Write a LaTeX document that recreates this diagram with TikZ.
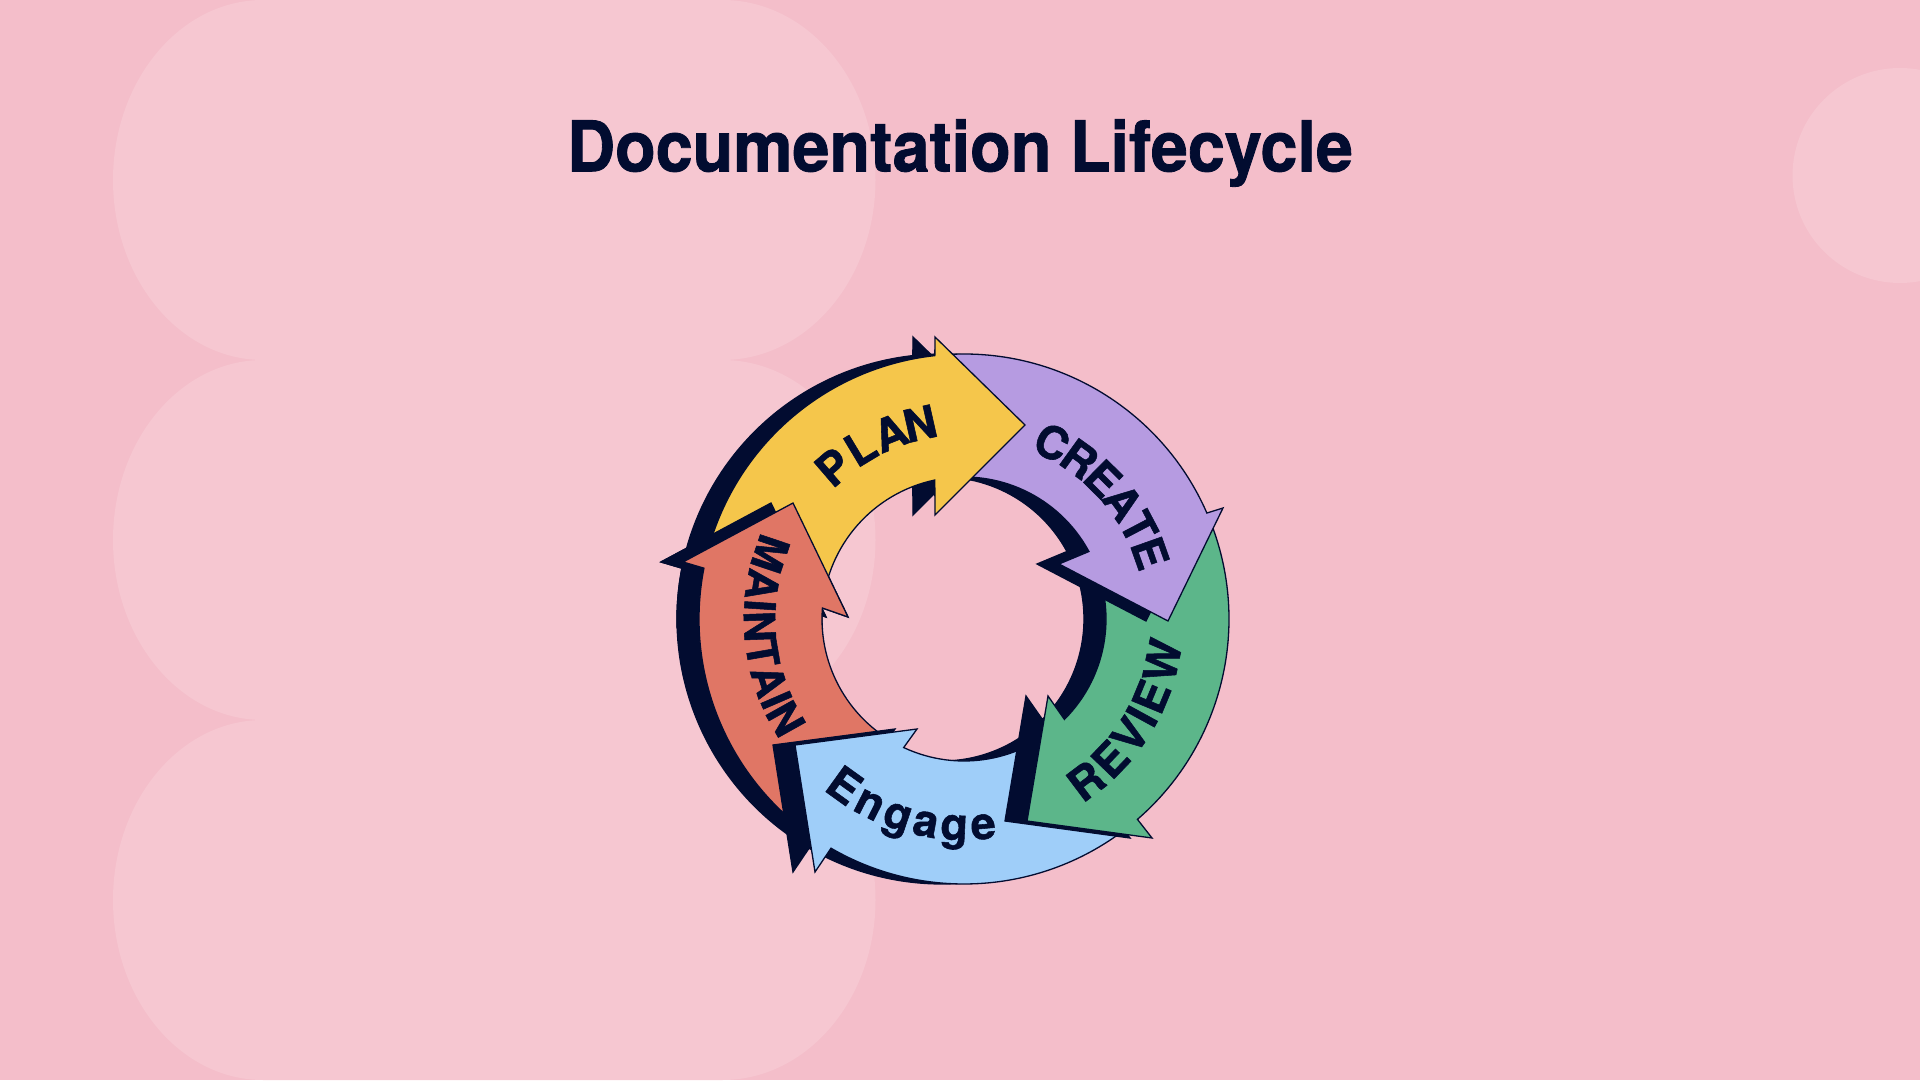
\documentclass[tikz,border=0pt]{standalone}
\usepackage{fontspec}
\setmainfont{TeX Gyre Heros}
\newfontfamily\heavyfont{TeX Gyre Heros}[BoldFeatures={FakeBold=1.2}]
\definecolor{bgpink}{HTML}{F4BECA}
\definecolor{blobpink}{HTML}{F6C7D1}
\definecolor{navy}{HTML}{020C30}
\definecolor{cyellow}{HTML}{F5C64B}
\definecolor{cpurple}{HTML}{B69BE1}
\definecolor{cgreen}{HTML}{5CB68A}
\definecolor{cblue}{HTML}{9FCEF9}
\definecolor{csalmon}{HTML}{E07665}
% arrow outlines, relative to the ring centre
\def\pathMaint{(-120.12:265) arc[start angle=-120.12, end angle=-191.06, radius=265] -- (-281,57) -- (-171,116) -- (-116,2) -- (-184.43:142) arc[start angle=-184.43, end angle=-115.13, radius=142] -- cycle}
\def\pathEngage{(-49.12:265) arc[start angle=-49.12, end angle=-120.12, radius=265] -- (-149,-253) -- (-169,-126) -- (-47,-110) -- (-115.13:142) arc[start angle=-115.13, end angle=-45, radius=142] -- cycle}
\def\pathReview{(23.57:265) arc[start angle=23.57, end angle=-49.12, radius=265] -- (188,-219) -- (63,-202) -- (84,-77) -- (-45:142) arc[start angle=-45, end angle=28.38, radius=142] -- cycle}
\def\pathCreate{(96.32:265) arc[start angle=96.32, end angle=23.57, radius=265] -- (259,111) -- (204,-2) -- (95,55) -- (28.38:142) arc[start angle=28.38, end angle=101.87, radius=142] -- cycle}
\def\pathPlan{(168.94:265) arc[start angle=168.94, end angle=96.32, radius=265] -- (-29,282) -- (61,194) -- (-29,104) -- (101.87:142) arc[start angle=101.87, end angle=175.57, radius=142] -- cycle}
\begin{document}
\begin{tikzpicture}[x=1pt,y=1pt,
  blob/.style={fill=blobpink},
  arrowshape/.style={draw=navy, line width=1.3pt, line join=miter},
  shade/.style={fill=navy, draw=navy, line width=1.3pt, xshift=-22pt},
  lbl/.style={font=\heavyfont\fontsize{45}{45}\selectfont\bfseries, text=navy, inner sep=0pt, anchor=base},
  lblsmall/.style={font=\heavyfont\fontsize{43}{43}\selectfont\bfseries, text=navy, inner sep=0pt, anchor=base},
  titletext/.style={font=\heavyfont\fontsize{70}{70}\selectfont\bfseries, text=navy, inner sep=0pt, anchor=base}]
\fill[bgpink] (0,0) rectangle (1920,1080);
\useasboundingbox (0,0) rectangle (1920,1080);
% background blobs
\foreach \yc in {900,540,180}{
  \fill[blob] (263,\yc+180) -- (722.5,\yc+180) arc[start angle=90, end angle=-90, x radius=153, y radius=180]
     -- (263,\yc-180) arc[start angle=270, end angle=90, x radius=150, y radius=180] -- cycle;
}
\fill[blob] (1900,904.5) circle[radius=107.5];
% title
\node[titletext] (title) at (960,908.6) {\scalebox{0.95}[1]{Documentation Lifecycle}};
% ring
\begin{scope}[shift={(964,461)}]
  \fill[shade] \pathMaint;
  \filldraw[arrowshape, fill=csalmon] \pathMaint;
  \fill[shade] \pathEngage;
  \filldraw[arrowshape, fill=cblue] \pathEngage;
  \fill[shade] \pathReview;
  \filldraw[arrowshape, fill=cgreen] \pathReview;
  \fill[shade] \pathCreate;
  \filldraw[arrowshape, fill=cpurple] \pathCreate;
  \fill[shade] \pathPlan;
  \filldraw[arrowshape, fill=cyellow] \pathPlan;
  % the MAINTAIN head lies over the PLAN tail
  \begin{scope}
    \clip (-340,-10) rectangle (-85,150);
    \fill[shade] \pathMaint;
    \filldraw[arrowshape, fill=csalmon] \pathMaint;
  \end{scope}
  % labels
  \foreach \ch/\a [count=\i] in {P/130.7, L/121.1, A/111.6, N/102.7}
    \node[lbl, rotate=\a-90] (plan\i) at (\a:184) {\ch};
  \foreach \ch/\a [count=\i] in {C/63.5, R/54.2, E/45.25, A/36.3, T/27.7, E/19.5}
    \node[lbl, rotate=\a-90] (create\i) at (\a:181) {\ch};
  \foreach \ch/\a [count=\i] in {R/-53, E/-43.8, V/-35.0, I/-28.7, E/-22.5, W/-11.8}
    \node[lbl, rotate=\a+90] (review\i) at (\a:219) {\ch};
  \foreach \ch/\a [count=\i] in {E/234.3, n/243.0, g/251.4, a/259.4, g/267.3, e/275.3}
    \node[lbl, rotate=\a+90] (engage\i) at (\a:221) {\ch};
  \foreach \ch/\a [count=\i] in {M/161.4, A/170.4, I/176.3, N/182.1, T/189.8, A/197.6, I/203.4, N/209.2}
    \node[lblsmall, rotate=\a+90] (maint\i) at (\a:220) {\ch};
\end{scope}
\end{tikzpicture}
\end{document}
